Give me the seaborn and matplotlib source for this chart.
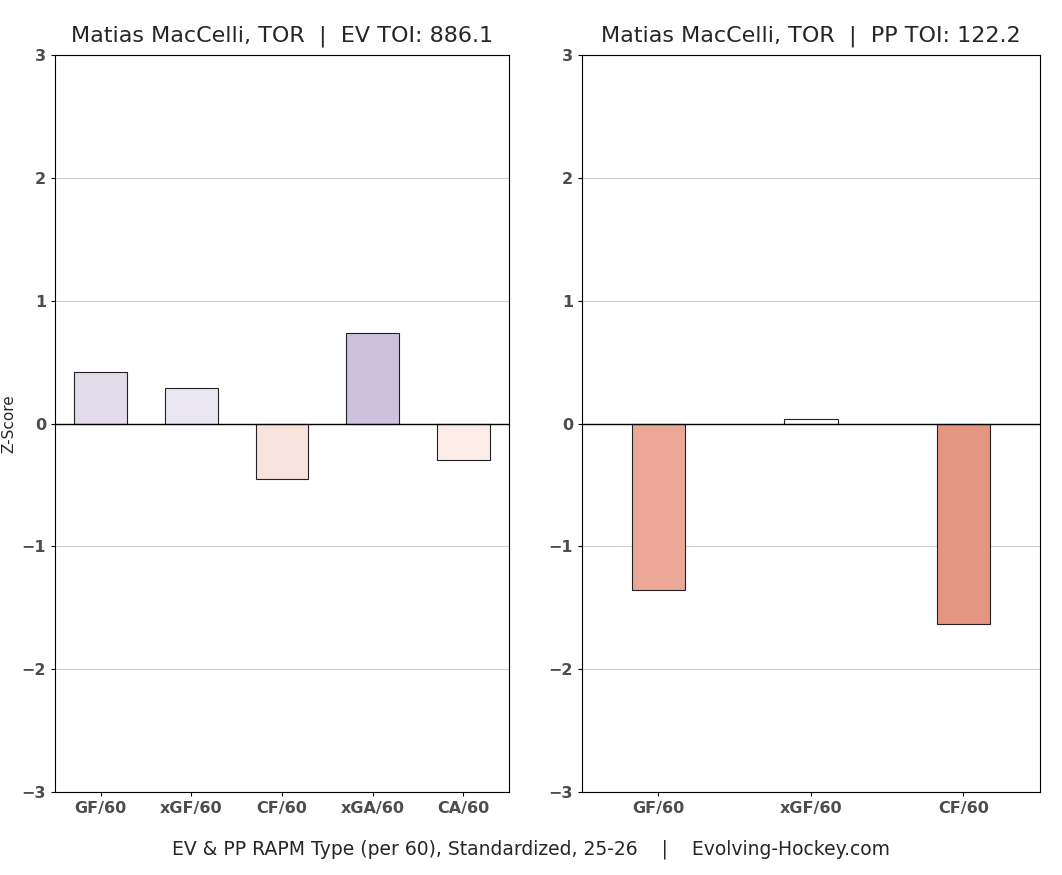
import pandas as pd
import seaborn as sns
import matplotlib.pyplot as plt

ev = pd.DataFrame({
    'metric': ['GF/60', 'xGF/60', 'CF/60', 'xGA/60', 'CA/60'],
    'z': [0.42, 0.29, -0.45, 0.74, -0.30],
    'color': ['#e2d9ee', '#ebe5f4', '#fde0d8', '#cbbde2', '#feeae5'],
})
pp = pd.DataFrame({
    'metric': ['GF/60', 'xGF/60', 'CF/60'],
    'z': [-1.36, 0.04, -1.63],
    'color': ['#f9a088', '#ffffff', '#f48c72'],
})

sns.set_style('white')
fig = plt.figure(figsize=(10.62, 8.75), dpi=100)
ax1 = fig.add_axes([0.052, 0.095, 0.427, 0.842])
ax2 = fig.add_axes([0.548, 0.095, 0.431, 0.842])

for ax, df, w, title in [(ax1, ev, 0.58, 'Matias MacCelli, TOR  |  EV TOI: 886.1'),
                         (ax2, pp, 0.35, 'Matias MacCelli, TOR  |  PP TOI: 122.2')]:
    sns.barplot(data=df, x='metric', y='z', hue='metric', palette=list(df['color']),
                width=w, edgecolor='#222222', linewidth=0.8, legend=False, ax=ax, zorder=3)
    ax.axhline(0, color='black', linewidth=1, zorder=4)
    ax.set_ylim(-3, 3)
    ax.set_yticks(range(-3, 4))
    ax.yaxis.grid(True, color='#d0d0d0', linewidth=0.8, zorder=0)
    ax.set_axisbelow(True)
    ax.set_xlabel('')
    ax.set_ylabel('')
    ax.set_title(title, fontsize=16, pad=10)
    for s in ax.spines.values():
        s.set_color('black')
        s.set_linewidth(0.8)
    ax.tick_params(axis='both', length=3, left=True, bottom=True, colors='black', labelcolor='#4d4d4d')
    for lbl in ax.get_xticklabels() + ax.get_yticklabels():
        lbl.set_fontweight('bold')
        lbl.set_fontsize(11.5)

ax1.set_ylabel('Z-Score', fontsize=11)
fig.text(0.5, 0.023, 'EV & PP RAPM Type (per 60), Standardized, 25-26    |    Evolving-Hockey.com',
         ha='center', fontsize=13.5)
fig.savefig('out.png', dpi=100)
